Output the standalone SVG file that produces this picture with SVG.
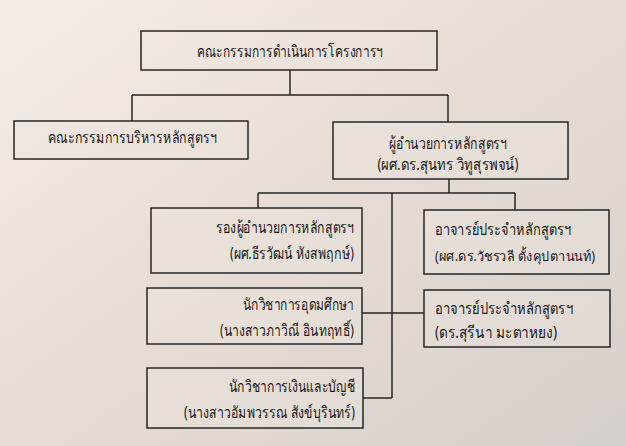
<svg xmlns="http://www.w3.org/2000/svg" width="626" height="446" viewBox="0 0 626 446">
<defs>
<linearGradient id="bg" x1="0" y1="0" x2="1" y2="1">
<stop offset="0" stop-color="#f5eee9"/>
<stop offset="0.45" stop-color="#e8ddd5"/>
<stop offset="1" stop-color="#d5cfcb"/>
</linearGradient>
<style>
.box{fill:#ece4de;fill-opacity:0.45;stroke:#262626;stroke-width:1.5}
.ln{fill:none;stroke:#262626;stroke-width:1.5}
text{font-family:"Noto Sans","DejaVu Sans",sans-serif;font-size:16px;fill:#1a1a1a}
.c{text-anchor:middle}
.r{text-anchor:end}
.l{text-anchor:start}
</style>
</defs>
<rect width="626" height="446" fill="url(#bg)"/>
<g id="connectors">
<path class="ln" d="M290 70V95M132 95H448M132 95V121M448 95V122"/>
<path class="ln" d="M449 179V193M258 193H515M258 193V208M515 193V210M392 193V398"/>
<path class="ln" d="M362 313H424M363 398H392"/>
</g>
<g id="top">
<rect class="box" x="141" y="31" width="296" height="39"/>
<text class="c" x="290" y="57" textLength="186" lengthAdjust="spacingAndGlyphs">คณะกรรมการดำเนินการโครงการฯ</text>
</g>
<g id="board">
<rect class="box" x="14" y="121" width="234" height="38"/>
<text class="c" x="132" y="143" textLength="169" lengthAdjust="spacingAndGlyphs">คณะกรรมการบริหารหลักสูตรฯ</text>
</g>
<g id="director">
<rect class="box" x="333" y="122" width="235" height="57"/>
<text class="c" x="448" y="149" textLength="118" lengthAdjust="spacingAndGlyphs">ผู้อำนวยการหลักสูตรฯ</text>
<text class="c" x="448" y="170" textLength="141" lengthAdjust="spacingAndGlyphs">(ผศ.ดร.สุนทร วิทูสุรพจน์)</text>
</g>
<g id="deputy">
<rect class="box" x="151" y="208" width="211" height="65"/>
<text class="r" x="354" y="233" textLength="138" lengthAdjust="spacingAndGlyphs">รองผู้อำนวยการหลักสูตรฯ</text>
<text class="r" x="354" y="259" textLength="124" lengthAdjust="spacingAndGlyphs">(ผศ.ธีรวัฒน์ หังสพฤกษ์)</text>
</g>
<g id="lecturer1">
<rect class="box" x="424" y="210" width="185" height="64"/>
<text class="l" x="435" y="235" textLength="136" lengthAdjust="spacingAndGlyphs">อาจารย์ประจำหลักสูตรฯ</text>
<text class="l" x="435" y="261" style="font-size:13.5px" textLength="160" lengthAdjust="spacingAndGlyphs">(ผศ.ดร.วัชรวลี ตั้งคุปตานนท์)</text>
</g>
<g id="academic">
<rect class="box" x="147" y="288" width="215" height="56"/>
<text class="r" x="354" y="310" textLength="111" lengthAdjust="spacingAndGlyphs">นักวิชาการอุดมศึกษา</text>
<text class="r" x="354" y="336" textLength="134" lengthAdjust="spacingAndGlyphs">(นางสาวภาวิณี อินทฤทธิ์)</text>
</g>
<g id="lecturer2">
<rect class="box" x="424" y="290" width="186" height="57"/>
<text class="l" x="435" y="314" textLength="138" lengthAdjust="spacingAndGlyphs">อาจารย์ประจำหลักสูตรฯ</text>
<text class="l" x="435" y="338" textLength="122" lengthAdjust="spacingAndGlyphs">(ดร.สุรีนา  มะตาหยง)</text>
</g>
<g id="finance">
<rect class="box" x="147" y="368" width="216" height="60"/>
<text class="r" x="355" y="392" textLength="126" lengthAdjust="spacingAndGlyphs">นักวิชาการเงินและบัญชี</text>
<text class="r" x="355" y="418" textLength="171" lengthAdjust="spacingAndGlyphs">(นางสาวอัมพวรรณ สังข์บุรินทร์)</text>
</g>
</svg>
